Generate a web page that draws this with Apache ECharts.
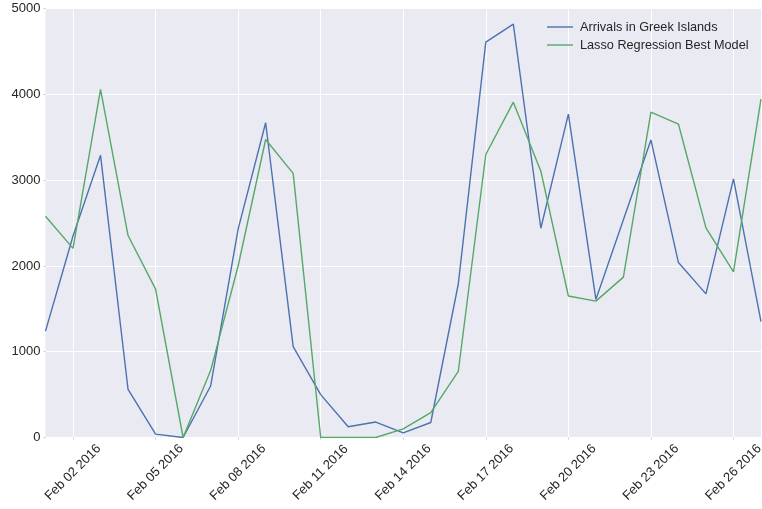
<!DOCTYPE html>
<html>
<head>
<meta charset="utf-8">
<script src="https://cdn.jsdelivr.net/npm/echarts@6/dist/echarts.min.js"></script>
<style>
html,body{margin:0;padding:0;background:#fff;}
#c{width:762px;height:509px;}
</style>
</head>
<body>
<div id="c"></div>
<script>
var dates = ['Feb 01 2016','Feb 02 2016','Feb 03 2016','Feb 04 2016','Feb 05 2016','Feb 06 2016','Feb 07 2016','Feb 08 2016','Feb 09 2016','Feb 10 2016','Feb 11 2016','Feb 12 2016','Feb 13 2016','Feb 14 2016','Feb 15 2016','Feb 16 2016','Feb 17 2016','Feb 18 2016','Feb 19 2016','Feb 20 2016','Feb 21 2016','Feb 22 2016','Feb 23 2016','Feb 24 2016','Feb 25 2016','Feb 26 2016','Feb 27 2016'];
var arrivals = [1240,2350,3290,560,40,0,600,2430,3670,1060,500,125,180,55,175,1790,4610,4820,2440,3770,1610,2540,3470,2040,1675,3015,1350];
var lasso = [2580,2205,4060,2355,1730,0,780,2000,3475,3080,0,0,0,100,290,770,3300,3910,3105,1650,1590,1870,3795,3655,2445,1930,3945];
var seriesNames = ['Arrivals in Greek Islands','Lasso Regression Best Model'];
var yTicks = [0,1000,2000,3000,4000,5000];

var chart = echarts.init(document.getElementById('c'));
var font = 'Liberation Sans, Arial, sans-serif';
function showIdx(i){ return (i - 1) % 3 === 0; }
chart.setOption({
  backgroundColor: '#ffffff',
  animation: false,
  grid: {left: 45.5, right: 1, top: 8.7, bottom: 71.5, show: true, backgroundColor: '#EAEAF2', borderWidth: 0, containLabel: false, outerBoundsMode: 'none'},
  legend: {
    orient: 'vertical', left: 542, top: 15.5,
    itemWidth: 26, itemHeight: 14, itemGap: 5,
    icon: 'path://M0,0 L26,0 L26,1.4 L0,1.4 Z',
    textStyle: {fontFamily: font, fontSize: 12.7, color: '#262626', padding: [0,0,0,2]},
    data: seriesNames
  },
  xAxis: {
    type: 'category', data: dates, boundaryGap: false,
    axisLine: {show: false},
    axisTick: {show: true, interval: function(i){return showIdx(i);}, length: 2, lineStyle: {color: '#cccccc'}},
    splitLine: {show: true, interval: function(i){return showIdx(i);}, lineStyle: {color: '#ffffff', width: 1}},
    axisLabel: {
      interval: function(i){return showIdx(i);},
      rotate: 45, align: 'center', verticalAlign: 'middle', margin: 35,
      fontFamily: font, fontSize: 13, color: '#262626'
    }
  },
  yAxis: {
    type: 'value', min: yTicks[0], max: yTicks[yTicks.length-1], interval: 1000,
    axisLine: {show: false},
    axisTick: {show: true, length: 2, lineStyle: {color: '#cccccc'}},
    splitLine: {show: true, lineStyle: {color: '#ffffff', width: 1}},
    axisLabel: {fontFamily: font, fontSize: 13, color: '#262626', margin: 5, formatter: function(v){return String(v);}}
  },
  series: [
    {name: seriesNames[0], type: 'line', data: arrivals, symbol: 'none', color: '#4C72B0', lineStyle: {width: 1.4, color: '#4C72B0'}},
    {name: seriesNames[1], type: 'line', data: lasso, symbol: 'none', color: '#55A868', lineStyle: {width: 1.4, color: '#55A868'}}
  ]
});
</script>
</body>
</html>
